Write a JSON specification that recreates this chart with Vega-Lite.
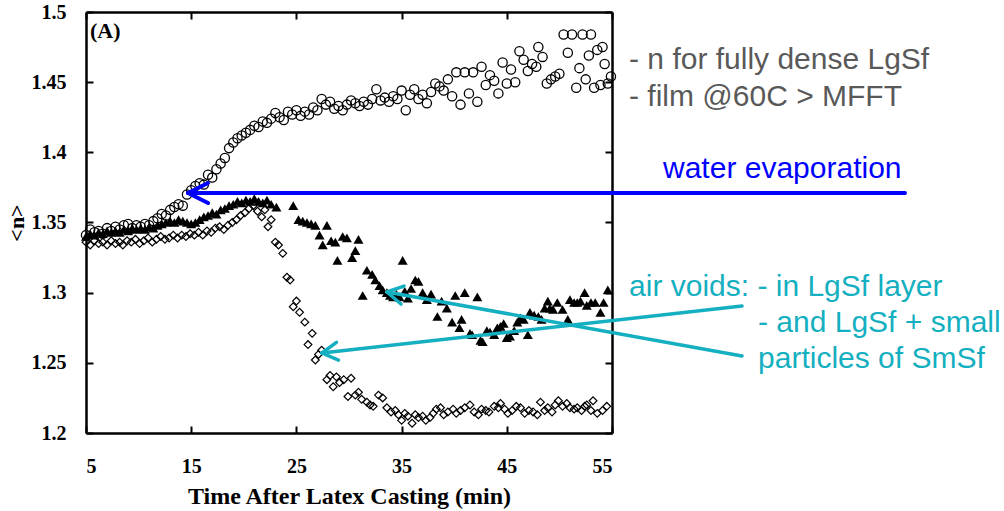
{
"$schema":"https://vega.github.io/schema/vega-lite/v6.json",
"autosize":{"type":"none"},
"width":526,"height":421,
"padding":{"left":86,"top":12,"right":392,"bottom":78},
"background":"white",
"config":{"view":{"stroke":null},
 "axis":{"domainColor":"black","domainWidth":2.5,"tickColor":"black","tickWidth":2,"tickSize":-7,"grid":false,
  "labelFont":"Liberation Serif","labelFontWeight":"bold","labelFontSize":20,"labelColor":"black",
  "titleFont":"Liberation Serif","titleFontWeight":"bold","titleColor":"black"}},
"datasets":{
"circ":[
{"t":5.0,"n":1.341},{"t":5.4,"n":1.345},{"t":5.8,"n":1.343},{"t":6.2,"n":1.344},{"t":6.6,"n":1.342},{"t":7.0,"n":1.346},{"t":7.4,"n":1.344},{"t":7.8,"n":1.347},{"t":8.2,"n":1.345},{"t":8.6,"n":1.348},{"t":9.0,"n":1.349},{"t":9.4,"n":1.346},{"t":9.8,"n":1.348},{"t":10.2,"n":1.347},{"t":10.6,"n":1.349},{"t":11.0,"n":1.348},{"t":11.4,"n":1.351},{"t":11.8,"n":1.353},{"t":12.2,"n":1.356},{"t":12.6,"n":1.355},{"t":13.0,"n":1.359},{"t":13.4,"n":1.361},{"t":13.8,"n":1.363},{"t":14.2,"n":1.362},{"t":14.6,"n":1.370},{"t":15.0,"n":1.373},{"t":15.4,"n":1.376},{"t":15.8,"n":1.378},{"t":16.2,"n":1.377},{"t":16.6,"n":1.384},{"t":17.0,"n":1.382},{"t":17.4,"n":1.388},{"t":17.8,"n":1.392},{"t":18.2,"n":1.396},{"t":18.6,"n":1.403},{"t":19.0,"n":1.407},{"t":19.4,"n":1.410},{"t":19.8,"n":1.412},{"t":20.2,"n":1.414},{"t":20.6,"n":1.416},{"t":21.0,"n":1.419},{"t":21.4,"n":1.418},{"t":21.8,"n":1.422},{"t":22.2,"n":1.421},{"t":22.6,"n":1.424},{"t":23.0,"n":1.428},{"t":23.4,"n":1.425},{"t":23.8,"n":1.423},{"t":24.2,"n":1.429},{"t":24.6,"n":1.427},{"t":25.0,"n":1.430},{"t":25.4,"n":1.426},{"t":25.8,"n":1.429},{"t":26.2,"n":1.427},{"t":26.6,"n":1.432},{"t":27.0,"n":1.430},{"t":27.4,"n":1.438},{"t":27.8,"n":1.434},{"t":28.2,"n":1.436},{"t":28.6,"n":1.431},{"t":29.0,"n":1.433},{"t":29.4,"n":1.430},{"t":29.8,"n":1.434},{"t":30.2,"n":1.437},{"t":30.6,"n":1.435},{"t":31.0,"n":1.433},{"t":31.4,"n":1.436},{"t":31.8,"n":1.434},{"t":32.2,"n":1.438},{"t":32.6,"n":1.445},{"t":33.0,"n":1.437},{"t":33.4,"n":1.439},{"t":33.8,"n":1.436},{"t":34.2,"n":1.440},{"t":34.6,"n":1.438},{"t":35.0,"n":1.444},{"t":35.4,"n":1.430},{"t":35.8,"n":1.441},{"t":36.2,"n":1.445},{"t":36.6,"n":1.438},{"t":37.0,"n":1.441},{"t":37.4,"n":1.435},{"t":37.8,"n":1.443},{"t":38.2,"n":1.449},{"t":38.6,"n":1.447},{"t":39.0,"n":1.444},{"t":39.4,"n":1.452},{"t":39.8,"n":1.440},{"t":40.2,"n":1.457},{"t":40.6,"n":1.434},{"t":41.0,"n":1.457},{"t":41.4,"n":1.442},{"t":41.8,"n":1.457},{"t":42.2,"n":1.436},{"t":42.6,"n":1.461},{"t":43.0,"n":1.448},{"t":43.4,"n":1.455},{"t":43.8,"n":1.451},{"t":44.2,"n":1.442},{"t":44.6,"n":1.464},{"t":45.0,"n":1.449},{"t":45.4,"n":1.459},{"t":45.8,"n":1.450},{"t":46.2,"n":1.472},{"t":46.6,"n":1.466},{"t":47.0,"n":1.458},{"t":47.4,"n":1.463},{"t":47.8,"n":1.461},{"t":48.0,"n":1.475},{"t":48.4,"n":1.468},{"t":48.8,"n":1.449},{"t":49.2,"n":1.452},{"t":49.6,"n":1.454},{"t":50.0,"n":1.456},{"t":50.4,"n":1.484},{"t":50.8,"n":1.471},{"t":51.2,"n":1.484},{"t":51.6,"n":1.446},{"t":51.9,"n":1.460},{"t":52.2,"n":1.484},{"t":52.5,"n":1.452},{"t":52.8,"n":1.469},{"t":53.0,"n":1.484},{"t":53.3,"n":1.446},{"t":53.6,"n":1.473},{"t":53.9,"n":1.448},{"t":54.1,"n":1.475},{"t":54.3,"n":1.463},{"t":54.6,"n":1.449},{"t":54.9,"n":1.454}],
"tri":[
{"t":5.0,"n":1.340},{"t":5.4,"n":1.342},{"t":5.8,"n":1.341},{"t":6.2,"n":1.343},{"t":6.6,"n":1.342},{"t":7.0,"n":1.344},{"t":7.4,"n":1.343},{"t":7.8,"n":1.344},{"t":8.2,"n":1.343},{"t":8.6,"n":1.345},{"t":9.0,"n":1.344},{"t":9.4,"n":1.346},{"t":9.8,"n":1.345},{"t":10.2,"n":1.346},{"t":10.6,"n":1.345},{"t":11.0,"n":1.347},{"t":11.4,"n":1.346},{"t":11.8,"n":1.348},{"t":12.2,"n":1.349},{"t":12.6,"n":1.350},{"t":13.0,"n":1.351},{"t":13.4,"n":1.350},{"t":13.8,"n":1.352},{"t":14.2,"n":1.351},{"t":14.6,"n":1.350},{"t":15.0,"n":1.349},{"t":15.4,"n":1.350},{"t":15.8,"n":1.352},{"t":16.2,"n":1.354},{"t":16.6,"n":1.355},{"t":17.0,"n":1.357},{"t":17.4,"n":1.356},{"t":17.8,"n":1.359},{"t":18.2,"n":1.360},{"t":18.6,"n":1.362},{"t":19.0,"n":1.363},{"t":19.4,"n":1.365},{"t":19.8,"n":1.364},{"t":20.2,"n":1.366},{"t":20.6,"n":1.365},{"t":21.0,"n":1.367},{"t":21.4,"n":1.365},{"t":21.8,"n":1.364},{"t":22.2,"n":1.366},{"t":22.6,"n":1.363},{"t":23.1,"n":1.361},{"t":24.7,"n":1.362},{"t":25.2,"n":1.352},{"t":25.6,"n":1.351},{"t":26.0,"n":1.350},{"t":26.4,"n":1.349},{"t":26.8,"n":1.348},{"t":27.2,"n":1.341},{"t":27.5,"n":1.334},{"t":27.9,"n":1.348},{"t":28.3,"n":1.337},{"t":28.7,"n":1.336},{"t":28.9,"n":1.323},{"t":29.4,"n":1.340},{"t":29.8,"n":1.339},{"t":30.3,"n":1.325},{"t":30.6,"n":1.330},{"t":30.9,"n":1.338},{"t":31.3,"n":1.298},{"t":31.7,"n":1.316},{"t":32.2,"n":1.313},{"t":32.5,"n":1.309},{"t":32.9,"n":1.305},{"t":33.2,"n":1.302},{"t":33.6,"n":1.300},{"t":33.9,"n":1.298},{"t":34.2,"n":1.297},{"t":34.5,"n":1.299},{"t":34.8,"n":1.297},{"t":35.1,"n":1.323},{"t":35.3,"n":1.301},{"t":35.6,"n":1.296},{"t":35.9,"n":1.303},{"t":36.3,"n":1.309},{"t":36.6,"n":1.308},{"t":37.0,"n":1.300},{"t":37.4,"n":1.295},{"t":37.8,"n":1.299},{"t":38.4,"n":1.283},{"t":38.8,"n":1.294},{"t":39.3,"n":1.289},{"t":39.8,"n":1.279},{"t":40.1,"n":1.298},{"t":40.5,"n":1.275},{"t":40.7,"n":1.281},{"t":41.0,"n":1.300},{"t":41.5,"n":1.271},{"t":41.7,"n":1.270},{"t":42.2,"n":1.297},{"t":42.5,"n":1.266},{"t":42.7,"n":1.265},{"t":43.1,"n":1.273},{"t":43.4,"n":1.272},{"t":43.8,"n":1.270},{"t":44.1,"n":1.275},{"t":44.4,"n":1.276},{"t":44.7,"n":1.278},{"t":45.0,"n":1.268},{"t":45.3,"n":1.269},{"t":45.7,"n":1.273},{"t":46.0,"n":1.279},{"t":46.3,"n":1.282},{"t":46.6,"n":1.281},{"t":47.0,"n":1.270},{"t":47.2,"n":1.286},{"t":47.6,"n":1.284},{"t":48.0,"n":1.283},{"t":48.3,"n":1.281},{"t":48.6,"n":1.289},{"t":48.9,"n":1.294},{"t":49.1,"n":1.289},{"t":49.4,"n":1.288},{"t":49.8,"n":1.293},{"t":50.3,"n":1.288},{"t":50.8,"n":1.281},{"t":51.0,"n":1.295},{"t":51.4,"n":1.293},{"t":51.7,"n":1.293},{"t":52.0,"n":1.294},{"t":52.4,"n":1.300},{"t":52.6,"n":1.291},{"t":53.0,"n":1.293},{"t":53.4,"n":1.293},{"t":53.9,"n":1.286},{"t":54.2,"n":1.293},{"t":54.6,"n":1.302}],
"dia":[
{"t":5.0,"n":1.336},{"t":5.4,"n":1.334},{"t":5.8,"n":1.337},{"t":6.2,"n":1.335},{"t":6.6,"n":1.336},{"t":7.0,"n":1.334},{"t":7.4,"n":1.337},{"t":7.8,"n":1.335},{"t":8.2,"n":1.336},{"t":8.5,"n":1.334},{"t":8.9,"n":1.337},{"t":9.3,"n":1.336},{"t":9.7,"n":1.338},{"t":10.1,"n":1.335},{"t":10.5,"n":1.337},{"t":10.9,"n":1.339},{"t":11.3,"n":1.336},{"t":11.7,"n":1.338},{"t":12.1,"n":1.340},{"t":12.5,"n":1.338},{"t":12.9,"n":1.339},{"t":13.3,"n":1.341},{"t":13.7,"n":1.339},{"t":14.1,"n":1.341},{"t":14.5,"n":1.340},{"t":14.9,"n":1.342},{"t":15.3,"n":1.341},{"t":15.7,"n":1.343},{"t":16.1,"n":1.341},{"t":16.5,"n":1.344},{"t":16.9,"n":1.343},{"t":17.3,"n":1.346},{"t":17.7,"n":1.347},{"t":18.1,"n":1.345},{"t":18.5,"n":1.348},{"t":18.9,"n":1.350},{"t":19.3,"n":1.352},{"t":19.7,"n":1.355},{"t":20.1,"n":1.357},{"t":20.5,"n":1.360},{"t":20.9,"n":1.362},{"t":21.3,"n":1.358},{"t":21.7,"n":1.354},{"t":22.0,"n":1.359},{"t":22.3,"n":1.347},{"t":22.6,"n":1.352},{"t":23.0,"n":1.336},{"t":23.3,"n":1.334},{"t":23.7,"n":1.328},{"t":24.1,"n":1.311},{"t":24.4,"n":1.309},{"t":24.7,"n":1.290},{"t":25.0,"n":1.294},{"t":25.3,"n":1.286},{"t":25.8,"n":1.279},{"t":26.1,"n":1.263},{"t":26.5,"n":1.271},{"t":26.8,"n":1.252},{"t":27.1,"n":1.256},{"t":27.4,"n":1.259},{"t":27.9,"n":1.238},{"t":28.2,"n":1.241},{"t":28.5,"n":1.233},{"t":28.8,"n":1.240},{"t":29.1,"n":1.236},{"t":29.5,"n":1.238},{"t":29.9,"n":1.226},{"t":30.2,"n":1.239},{"t":30.6,"n":1.227},{"t":30.9,"n":1.229},{"t":31.2,"n":1.224},{"t":31.7,"n":1.222},{"t":32.0,"n":1.220},{"t":32.3,"n":1.219},{"t":32.8,"n":1.227},{"t":33.2,"n":1.225},{"t":33.6,"n":1.218},{"t":34.0,"n":1.215},{"t":34.4,"n":1.216},{"t":34.7,"n":1.213},{"t":35.0,"n":1.209},{"t":35.3,"n":1.214},{"t":35.6,"n":1.212},{"t":36.0,"n":1.207},{"t":36.3,"n":1.213},{"t":36.6,"n":1.211},{"t":37.0,"n":1.212},{"t":37.3,"n":1.209},{"t":37.7,"n":1.211},{"t":38.0,"n":1.214},{"t":38.3,"n":1.217},{"t":38.7,"n":1.218},{"t":39.0,"n":1.213},{"t":39.4,"n":1.215},{"t":39.9,"n":1.217},{"t":40.2,"n":1.214},{"t":40.6,"n":1.216},{"t":41.0,"n":1.218},{"t":41.5,"n":1.220},{"t":41.9,"n":1.215},{"t":42.3,"n":1.213},{"t":42.6,"n":1.217},{"t":43.0,"n":1.216},{"t":43.3,"n":1.215},{"t":43.8,"n":1.219},{"t":44.2,"n":1.218},{"t":44.4,"n":1.221},{"t":44.8,"n":1.217},{"t":45.1,"n":1.214},{"t":45.5,"n":1.216},{"t":45.9,"n":1.219},{"t":46.3,"n":1.218},{"t":46.7,"n":1.214},{"t":47.1,"n":1.216},{"t":47.5,"n":1.215},{"t":47.9,"n":1.213},{"t":48.2,"n":1.222},{"t":48.6,"n":1.216},{"t":48.9,"n":1.218},{"t":49.3,"n":1.215},{"t":49.6,"n":1.220},{"t":49.9,"n":1.223},{"t":50.3,"n":1.219},{"t":50.7,"n":1.221},{"t":51.0,"n":1.218},{"t":51.4,"n":1.217},{"t":51.7,"n":1.218},{"t":52.1,"n":1.216},{"t":52.4,"n":1.219},{"t":52.6,"n":1.220},{"t":53.0,"n":1.216},{"t":53.2,"n":1.223},{"t":53.6,"n":1.214},{"t":54.1,"n":1.216},{"t":54.5,"n":1.219}],
"arrows":[
{"g":"water","t":82.85,"n":1.371,"t2":14.70,"n2":1.371},
{"g":"water","t":14.70,"n":1.371,"t2":16.60,"n2":1.3781},
{"g":"water","t":14.70,"n":1.371,"t2":16.60,"n2":1.3639},
{"g":"air","t":67.36,"n":1.2905,"t2":27.43,"n2":1.257},
{"g":"air","t":27.43,"n":1.257,"t2":28.81,"n2":1.2646},
{"g":"air","t":27.43,"n":1.257,"t2":29.00,"n2":1.2519},
{"g":"air","t":67.36,"n":1.2549,"t2":33.61,"n2":1.3005},
{"g":"air","t":33.61,"n":1.3005,"t2":35.23,"n2":1.3047},
{"g":"air","t":33.61,"n":1.3005,"t2":34.94,"n2":1.2919}],
"notes":[
{"g":"gray","t":56.62,"n":1.4594,"label":"- n for fully dense LgSf"},
{"g":"gray","t":56.62,"n":1.4330,"label":"- film @60C > MFFT"},
{"g":"water","t":59.85,"n":1.3817,"label":"water evaporation"},
{"g":"air","t":56.62,"n":1.2976,"label":"air voids: - in LgSf layer"},
{"g":"air","t":68.88,"n":1.2720,"label":"- and LgSf + small"},
{"g":"air","t":68.88,"n":1.2463,"label":"particles of SmSf"}]
},
"layer":[
{"data":{"name":"circ"},"mark":{"type":"point","shape":"circle","filled":false,"stroke":"black","strokeWidth":1.3,"size":85,"opacity":1},
 "encoding":{
  "x":{"field":"t","type":"quantitative","scale":{"domain":[5,55],"nice":false,"zero":false},
   "axis":{"orient":"bottom","values":[5,15,25,35,45,55],"format":"d","labelPadding":30,"title":"Time After Latex Casting (min)","titleFontSize":24,"titlePadding":8}},
  "y":{"field":"n","type":"quantitative","scale":{"domain":[1.2,1.5],"nice":false,"zero":false},
   "axis":{"orient":"left","values":[1.2,1.25,1.3,1.35,1.4,1.45,1.5],"format":"~g","labelPadding":27,"title":"<n>","titleFontSize":22,"titlePadding":3}}}},
{"data":{"name":"tri"},"mark":{"type":"point","shape":"triangle-up","filled":true,"fill":"black","size":100,"opacity":1},
 "encoding":{
  "x":{"field":"t","type":"quantitative","axis":{"orient":"top","values":[5,15,25,35,45,55],"labels":false,"title":null}},
  "y":{"field":"n","type":"quantitative","axis":{"orient":"right","values":[1.2,1.25,1.3,1.35,1.4,1.45,1.5],"labels":false,"title":null}}}},
{"data":{"name":"dia"},"mark":{"type":"point","shape":"diamond","filled":false,"stroke":"black","strokeWidth":1.2,"size":60,"opacity":1},
 "encoding":{
  "x":{"field":"t","type":"quantitative","axis":null},
  "y":{"field":"n","type":"quantitative","axis":null}}},
{"data":{"name":"arrows"},"transform":[{"filter":"datum.g==='water'"}],"mark":{"type":"rule","color":"#0000FF","strokeWidth":4,"strokeCap":"round"},
 "encoding":{"x":{"field":"t","type":"quantitative","axis":null},"y":{"field":"n","type":"quantitative","axis":null},"x2":{"field":"t2"},"y2":{"field":"n2"}}},
{"data":{"name":"arrows"},"transform":[{"filter":"datum.g==='air'"}],"mark":{"type":"rule","color":"#14AFC0","strokeWidth":3.5,"strokeCap":"round"},
 "encoding":{"x":{"field":"t","type":"quantitative","axis":null},"y":{"field":"n","type":"quantitative","axis":null},"x2":{"field":"t2"},"y2":{"field":"n2"}}},
{"data":{"name":"notes"},"mark":{"type":"text","font":"Liberation Sans","fontSize":30,"align":"left","baseline":"alphabetic"},
 "encoding":{"x":{"field":"t","type":"quantitative","axis":null},"y":{"field":"n","type":"quantitative","axis":null},"text":{"field":"label"},
  "color":{"field":"g","type":"nominal","scale":{"domain":["gray","water","air"],"range":["#595959","#0000FF","#14AFC0"]},"legend":null}}},
{"data":{"values":[{"t":5.38,"n":1.4815,"label":"(A)"}]},"mark":{"type":"text","font":"Liberation Serif","fontWeight":"bold","fontSize":22,"align":"left","baseline":"alphabetic","color":"black"},
 "encoding":{"x":{"field":"t","type":"quantitative","axis":null},"y":{"field":"n","type":"quantitative","axis":null},"text":{"field":"label"}}}
],
"resolve":{"axis":{"x":"independent","y":"independent"}}
}
